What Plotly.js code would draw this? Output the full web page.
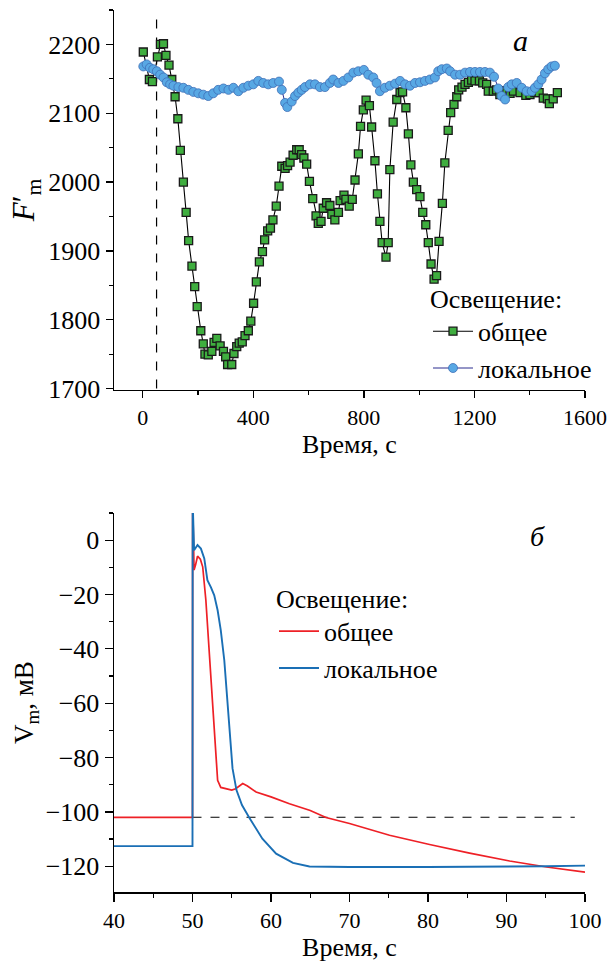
<!DOCTYPE html>
<html><head><meta charset="utf-8">
<script src="https://cdn.plot.ly/plotly-3.0.1.min.js"></script>
<style>html,body{margin:0;padding:0;background:#fff}#c{width:609px;height:962px}</style>
</head><body><div id="c"></div>
<script>
// ---- Panel a: F'm vs time ----
const generalT = [2,24,35,53,64,75,84,95,105,117,127,136,147,157,166,178,188,197,210,219,225,237,250,258,268,280,292,300,307,322,330,340,349,360,370,382,391,401,411,422,433,441,452,462,471,483,493,503,515,524,533,544,557,566,575,583,593,603,615,627,635,645,653,665,677,684,695,708,714,728,735,747,758,768,780,788,798,808,820,828,840,849,858,866,880,888,894,906,919,931,940,952,961,970,979,991,1003,1013,1024,1033,1043,1054,1063,1072,1084,1093,1105,1114,1126,1136,1143,1155,1166,1178,1190,1202,1218,1230,1244,1250,1268,1280,1292,1304,1317,1329,1341,1365,1386,1401,1419,1434,1449,1464,1471,1485,1500];
const generalF = [2189,2149,2146,2182,2200,2201,2184,2170,2149,2124,2092,2046,2000,1956,1915,1878,1848,1819,1784,1765,1750,1749,1754,1767,1773,1762,1754,1746,1735,1735,1751,1761,1766,1768,1777,1784,1798,1824,1855,1884,1899,1916,1929,1933,1945,1965,1994,2023,2020,2024,2029,2039,2047,2047,2040,2035,2026,2001,1976,1951,1940,1943,1962,1970,1966,1953,1945,1956,1973,1981,1975,1965,1975,2003,2041,2081,2105,2119,2111,2080,2031,1983,1943,1912,1891,1912,2018,2087,2120,2130,2131,2108,2070,2025,2000,1989,1979,1956,1938,1912,1881,1859,1864,1914,1969,2028,2075,2101,2113,2124,2134,2138,2142,2145,2148,2147,2147,2144,2142,2132,2132,2134,2127,2133,2132,2129,2132,2130,2126,2127,2130,2130,2122,2121,2114,2121,2130];
const localT = [2,14,26,38,51,63,75,87,99,111,129,147,165,183,201,219,237,255,273,292,310,328,346,364,382,400,418,436,454,472,493,503,515,523,539,551,563,575,587,605,623,641,659,677,689,708,726,744,762,780,800,816,834,846,858,876,894,913,931,949,967,985,1003,1021,1039,1057,1069,1082,1100,1112,1130,1148,1166,1184,1202,1220,1238,1256,1271,1286,1298,1311,1322,1335,1353,1371,1389,1407,1419,1431,1443,1455,1467,1479,1491];
const localF = [2168,2171,2166,2164,2161,2156,2152,2145,2142,2140,2138,2137,2134,2131,2129,2127,2125,2129,2134,2136,2134,2137,2132,2137,2140,2142,2147,2144,2142,2144,2146,2134,2115,2109,2117,2125,2130,2134,2138,2142,2142,2138,2138,2144,2149,2144,2147,2152,2159,2161,2163,2156,2152,2144,2132,2137,2140,2143,2147,2142,2140,2144,2145,2147,2149,2152,2161,2164,2165,2161,2156,2156,2159,2160,2160,2160,2160,2159,2153,2136,2125,2120,2138,2142,2144,2137,2132,2132,2137,2142,2149,2158,2164,2168,2169];
const markT = [50, 50];
const markF = [1700, 2243];

// ---- Panel б: Vm vs time ----
const redT = [40,50,50.02,50.2,50.4,50.64,51.0,51.3,51.7,52.1,52.55,52.9,53.2,53.6,54.3,55.0,55.5,56.0,56.4,57.0,58.1,60,62.35,65,67.0,70.0,75.1,80.2,85.3,90.4,95.1,100];
const redV = [-102,-102,15,-11,-9,-5.9,-7,-9.8,-22,-40.5,-59,-76,-88.4,-91,-91.5,-92,-91.5,-90.5,-89.6,-90.5,-92.7,-94.5,-97,-99.5,-102.1,-104.3,-108.6,-112,-115.2,-118.1,-120.3,-122.2];
const blueT = [40,50,50.02,50.2,50.64,51.07,51.5,51.9,52.35,52.77,53.2,53.6,54.05,54.4,54.7,55.1,55.6,56.3,57.2,58.9,60.65,62.8,64.9,70,80,90,95,100];
const blueV = [-112.6,-112.6,15,-3.7,-1.8,-3.1,-6.7,-14.7,-17.4,-20.3,-25.8,-33.1,-44.2,-58,-72,-84,-92,-97.5,-102,-109.9,-115.4,-118.8,-120.1,-120.3,-120.3,-120.2,-120,-119.8];
const restT = [50, 98.7];
const restV = [-102, -102];

const legendTitle = 'Освещение:';
const nameGeneral = 'общее';
const nameLocal = 'локальное';
const xTitle = 'Время, с';

const FONT = '"Liberation Serif", "Times New Roman", serif';

const traces = [
  {x: markT, y: markF, xaxis:'x', yaxis:'y', mode:'lines', line:{color:'#000', width:1.2, dash:'dash'}, showlegend:false, hoverinfo:'skip'},
  {x: generalT, y: generalF, xaxis:'x', yaxis:'y', mode:'lines+markers', name: nameGeneral, legend:'legend',
   line:{color:'#000', width:1.1},
   marker:{symbol:'square', size:8, color:'#3fae3f', line:{color:'#1a1a1a', width:1.3}}},
  {x: localT, y: localF, xaxis:'x', yaxis:'y', mode:'lines+markers', name: nameLocal, legend:'legend',
   line:{color:'#2b2d8f', width:1},
   marker:{symbol:'circle', size:9, color:'#58a8e4', line:{color:'#3f6fb6', width:0.8}}},
  {x: restT, y: restV, xaxis:'x2', yaxis:'y2', mode:'lines', line:{color:'#000', width:1.1, dash:'dash'}, showlegend:false, hoverinfo:'skip'},
  {x: redT, y: redV, xaxis:'x2', yaxis:'y2', mode:'lines', name: nameGeneral, legend:'legend2', line:{color:'#ee2026', width:1.7}},
  {x: blueT, y: blueV, xaxis:'x2', yaxis:'y2', mode:'lines', name: nameLocal, legend:'legend2', line:{color:'#1a6fb5', width:1.9}}
];

const minorBase = {ticks:'outside', ticklen:4, tickwidth:1.2, tickcolor:'#000', showgrid:false};
function ax(extra){
  return Object.assign({showline:true, linecolor:'#000', linewidth:1.5, ticks:'outside', ticklen:7, tickwidth:1.3, tickcolor:'#000',
    showgrid:false, zeroline:false}, extra);
}
const xTickFont = {family:FONT, size:22, color:'#000'};
const yTickFont = {family:FONT, size:26, color:'#000'};
const titleFont = {family:FONT, size:26, color:'#000'};

const layout = {
  width:609, height:962, paper_bgcolor:'#fff', plot_bgcolor:'#fff',
  margin:{l:114, r:24, t:10, b:70},
  font:{family:FONT, color:'#000'},
  xaxis: ax({domain:[0,1], anchor:'y', range:[-104,1600], tick0:0, dtick:400, tickfont:xTickFont,
    minor:Object.assign({}, minorBase, {dtick:200}),
    title:{text:xTitle, font:titleFont, standoff:4}}),
  yaxis: ax({domain:[0.5692,1], anchor:'x', range:[1698,2250], tick0:0, dtick:100, tickfont:yTickFont,
    minor:Object.assign({}, minorBase, {dtick:50}),
    title:{text:'<i>F</i>′<sub>m</sub>', font:{family:FONT, size:31, color:'#000'}, standoff:4}}),
  xaxis2: ax({domain:[0,1], anchor:'y2', range:[40,100], tick0:0, dtick:10, ticklen:8, tickfont:xTickFont,
    minor:Object.assign({}, minorBase, {dtick:5}),
    title:{text:xTitle, font:titleFont, standoff:2}}),
  yaxis2: ax({domain:[0,0.4297], anchor:'x2', range:[-129.5,10], tick0:0, dtick:20, ticklen:8, tickfont:yTickFont,
    minor:Object.assign({}, minorBase, {dtick:10}),
    title:{text:'V<sub>m</sub>, мВ', font:{family:FONT, size:27, color:'#000'}, standoff:4}}),
  legend:{x:(428-114)/471, y:(892-274)/882, xanchor:'left', yanchor:'top', bgcolor:'rgba(0,0,0,0)', borderwidth:0,
    font:{family:FONT, size:26, color:'#000'}, itemwidth:40, tracegroupgap:0,
    title:{text:legendTitle, side:'top', font:{family:FONT, size:26, color:'#000'}}},
  legend2:{x:(274-114)/471, y:(892-574)/882, xanchor:'left', yanchor:'top', bgcolor:'rgba(0,0,0,0)', borderwidth:0,
    font:{family:FONT, size:26, color:'#000'}, itemwidth:40,
    title:{text:legendTitle, side:'top', font:{family:FONT, size:26, color:'#000'}}},
  annotations:[
    {text:'<i>a</i>', xref:'paper', yref:'paper', x:(530-114)/471, y:(892-22)/882, showarrow:false, font:{family:FONT, size:30, color:'#000'}},
    {text:'<i>б</i>', xref:'paper', yref:'paper', x:(547-114)/471, y:(892-536)/882, showarrow:false, font:{family:FONT, size:28, color:'#000'}}
  ],
  showlegend:true
};

Plotly.newPlot('c', traces, layout, {staticPlot:true, displayModeBar:false});
</script>
</body></html>
